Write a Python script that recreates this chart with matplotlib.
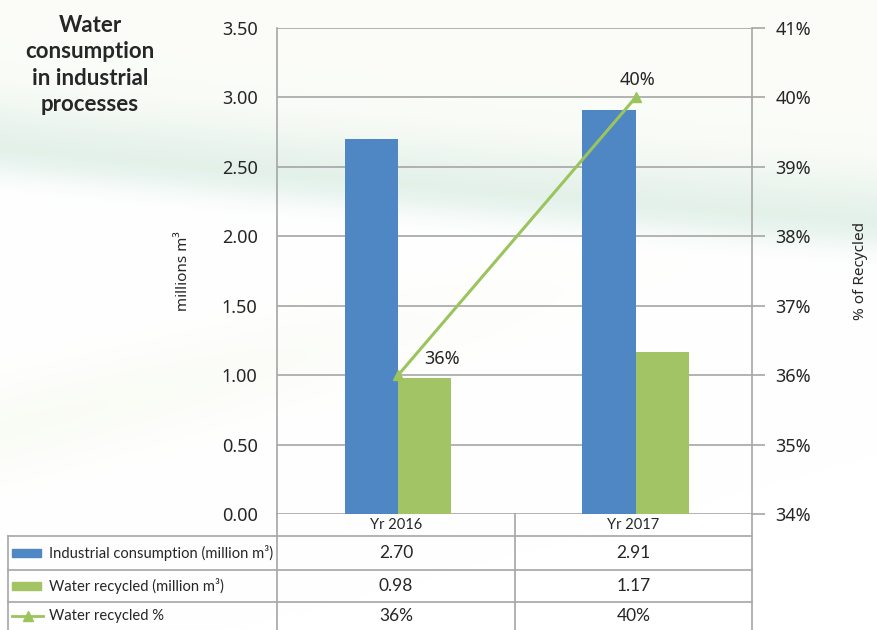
import numpy as np
import matplotlib
matplotlib.use("Agg")
import matplotlib.pyplot as plt
from matplotlib.patches import Rectangle
from matplotlib.lines import Line2D

# Data
years = ["Yr 2016", "Yr 2017"]
industrial = [2.70, 2.91]
recycled = [0.98, 1.17]
recycled_pct = [36, 40]
row_labels = ["Industrial consumption (million m³)",
              "Water recycled (million m³)",
              "Water recycled %"]

BLUE = "#4F86C4"
GREEN = "#A3C464"
LINE_GREEN = "#9BC45C"
GRID = "#A6A6A6"
TXT = "#262626"

W, H = 877, 630
fig = plt.figure(figsize=(W / 100, H / 100), dpi=100)


def fx(x):
    return x / W


def fy(y):
    return 1 - y / H


# soft background swoosh
bg = fig.add_axes([0, 0, 1, 1], zorder=-10)
xx, yy = np.meshgrid(np.arange(W), np.arange(H))
curve = 150 + 75 * (xx / W) ** 0.9
band = np.where(yy < curve, np.exp(-((yy - curve) / 50.0) ** 2),
                np.exp(-((yy - curve) / 25.0) ** 2))
low = 0.25 * np.exp(-((yy - (430 - 0.25 * xx)) / 45.0) ** 2) * np.exp(-(xx / 450.0) ** 2)
top_tint = np.array([0.97, 0.98, 0.945])
band_col = np.array([0.82, 0.91, 0.87])
low_col = np.array([0.92, 0.95, 0.85])
above = (yy < curve)[..., None] * 1.0
img = np.ones((H, W, 3))
img = img * (1 - 0.5 * above) + 0.5 * above * top_tint
img = img * (1 - 0.55 * band[..., None]) + 0.55 * band[..., None] * band_col
img = img * (1 - low[..., None]) + low[..., None] * low_col
bg.imshow(img, aspect="auto", extent=[0, W, H, 0])
bg.axis("off")

# main axes
ax = fig.add_axes([fx(277), fy(514), fx(752) - fx(277), fy(28) - fy(514)])
ax.patch.set_alpha(0)
x = np.arange(len(years))
bw = 0.224
ax.bar(x - bw / 2 + 0.01, industrial, width=bw, color=BLUE, zorder=3)
ax.bar(x + bw / 2 + 0.01, recycled, width=bw, color=GREEN, zorder=3)
ax.set_xlim(-0.5, 1.5)
ax.set_ylim(0, 3.5)
ax.set_yticks(np.arange(0, 3.51, 0.5))
ax.set_yticklabels([f"{v:.2f}" for v in np.arange(0, 3.51, 0.5)])
ax.set_xticks([])
ax.grid(axis="y", color=GRID, linewidth=1.2, zorder=0)
for s in ["top", "right", "bottom"]:
    ax.spines[s].set_visible(False)
ax.spines["left"].set_color(GRID)
ax.spines["left"].set_linewidth(1.2)
ax.tick_params(axis="y", length=0, pad=14, labelsize=13, labelcolor=TXT)
for lab in ax.get_yticklabels():
    lab.set_family("Noto Sans")
ax.set_ylabel("millions m³", fontsize=11, family="Noto Sans", color=TXT, labelpad=22)

ax2 = ax.twinx()
ax2.set_ylim(34, 41)
ax2.set_yticks(range(34, 42))
ax2.set_yticklabels([f"{v}%" for v in range(34, 42)])
for s in ["top", "left", "bottom"]:
    ax2.spines[s].set_visible(False)
ax2.spines["right"].set_color(GRID)
ax2.spines["right"].set_linewidth(1.2)
ax2.tick_params(axis="y", length=9, width=1.2, color=GRID, pad=8, labelsize=13, labelcolor=TXT)
for lab in ax2.get_yticklabels():
    lab.set_family("Noto Sans")
ax2.set_ylabel("% of Recycled", fontsize=11, family="Noto Sans", color=TXT, labelpad=30)
ax2.plot(x + 0.01, recycled_pct, color=LINE_GREEN, linewidth=2.2, marker="^", markersize=7,
         zorder=5, clip_on=False)
ax2.annotate(f"{recycled_pct[0]}%", (x[0], recycled_pct[0]), xytext=(46, 16),
             textcoords="offset pixels", ha="center", va="center", fontsize=13,
             family="Noto Sans", color=TXT)
ax2.annotate(f"{recycled_pct[1]}%", (x[1], recycled_pct[1]), xytext=(4, 17),
             textcoords="offset pixels", ha="center", va="center", fontsize=13,
             family="Noto Sans", color=TXT)

# title
fig.text(fx(90), fy(65), "Water\nconsumption\nin industrial\nprocesses", ha="center",
         va="center", fontsize=16, fontweight="bold", family="Lato", color=TXT,
         linespacing=1.33)

# data table below the chart
col_x = [8, 277, 515, 752]
row_y = [514, 536, 570, 602, 630]
tl = dict(color=GRID, linewidth=1.2, transform=fig.transFigure)
for yl in row_y[1:4]:
    fig.add_artist(Line2D([fx(col_x[0]), fx(col_x[-1])], [fy(yl), fy(yl)], **tl))
fig.add_artist(Line2D([fx(col_x[0]), fx(col_x[0])], [fy(row_y[1]), fy(row_y[-1])], **tl))
for cx in col_x[1:]:
    fig.add_artist(Line2D([fx(cx), fx(cx)], [fy(row_y[0]), fy(row_y[-1])], **tl))

centers = [(col_x[i + 1] + col_x[i + 2]) / 2 for i in range(len(years))]
for cxx, yr in zip(centers, years):
    fig.text(fx(cxx), fy(525), yr, ha="center", va="center", fontsize=10.5,
             family="Lato", color=TXT)

row_vals = [[f"{v:.2f}" for v in industrial],
            [f"{v:.2f}" for v in recycled],
            [f"{v}%" for v in recycled_pct]]
for r, (lab, vals) in enumerate(zip(row_labels, row_vals)):
    yc = (row_y[r + 1] + row_y[r + 2]) / 2
    fig.text(fx(49), fy(yc), lab, ha="left", va="center", fontsize=10.6,
             family="Lato", color=TXT)
    for cxx, v in zip(centers, vals):
        fig.text(fx(cxx), fy(yc), v, ha="center", va="center", fontsize=12.5,
                 family="Lato", color=TXT)

# legend keys in the table
for r, col in enumerate([BLUE, GREEN]):
    yc = (row_y[r + 1] + row_y[r + 2]) / 2
    fig.add_artist(Rectangle((fx(12), fy(yc + 4)), fx(41) - fx(12), fy(yc - 4) - fy(yc + 4),
                             color=col, transform=fig.transFigure))
yc = (row_y[3] + row_y[4]) / 2
fig.add_artist(Line2D([fx(12), fx(43)], [fy(yc), fy(yc)], color=LINE_GREEN, linewidth=2,
                      transform=fig.transFigure))
fig.add_artist(Line2D([fx(27.5)], [fy(yc)], color=LINE_GREEN, marker="^", markersize=7,
                      linestyle="none", transform=fig.transFigure))

fig.savefig("out.png", dpi=100)
